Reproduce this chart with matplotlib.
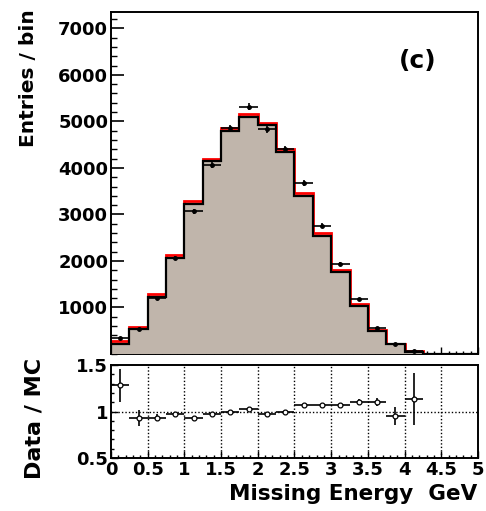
import numpy as np
import matplotlib
matplotlib.use("Agg")
import matplotlib.pyplot as plt
from matplotlib.ticker import MultipleLocator

plt.rcParams['font.family'] = ['DejaVu Sans']
plt.rcParams['font.weight'] = 'bold'

# missing energy histogram, 20 bins of 0.25 GeV
e_lo, e_hi, nbins = 0.0, 5.0, 20
mc_total = [270, 583, 1286, 2125, 3286, 4197, 4856, 5160, 4975, 4400,
            3452, 2591, 1802, 1071, 512, 225, 60, 6, 0, 0]
mc_main = [225, 527, 1228, 2068, 3228, 4140, 4800, 5100, 4918, 4345,
           3400, 2545, 1760, 1040, 490, 205, 50, 4, 0, 0]
data = [346, 542, 1202, 2061, 3072, 4071, 4856, 5315, 4826, 4400,
        3676, 2759, 1928, 1178, 563, 214, 68, 0, 0, 0]
data_err = [19, 23, 35, 45, 55, 64, 70, 73, 69, 66,
            61, 53, 44, 34, 24, 15, 8, 0, 0, 0]
ratio_err = [0.18, 0.09, 0.035, 0.02, 0.02, 0.015, 0.015, 0.015, 0.015, 0.015,
             0.02, 0.02, 0.025, 0.03, 0.045, 0.10, 0.28]

edges = np.linspace(e_lo, e_hi, nbins + 1)
centers = 0.5 * (edges[:-1] + edges[1:])
half = 0.5 * (edges[1] - edges[0])
mc_total = np.array(mc_total, float)
data = np.array(data, float)
nr = len(ratio_err)
ratio = data[:nr] / mc_total[:nr]

fig = plt.figure(figsize=(4.86, 5.11), dpi=100)
ax = fig.add_axes([0.2284, 0.3072, 0.7551, 0.6693])
axr = fig.add_axes([0.2284, 0.1037, 0.7551, 0.1820])

# upper panel
ax.stairs(mc_total, edges, color='red', lw=2.0, zorder=2)
ax.stairs(mc_main, edges, fill=True, color='#c0b5ab', zorder=3)
ax.stairs(mc_main, edges, color='black', lw=1.6, zorder=4)
m = data > 0
ax.errorbar(centers[m], data[m], xerr=half, yerr=np.array(data_err)[m],
            fmt='o', ms=2.5, color='black', lw=1.2, capsize=0, zorder=5)
ax.set_xlim(e_lo, e_hi)
ax.set_ylim(0, 7350)
ax.yaxis.set_minor_locator(MultipleLocator(200))
ax.xaxis.set_major_locator(MultipleLocator(0.5))
ax.xaxis.set_minor_locator(MultipleLocator(0.1))
ax.set_yticks([1000, 2000, 3000, 4000, 5000, 6000, 7000])
ax.tick_params(axis='y', which='major', direction='in', length=9, width=1.2, labelsize=13, pad=2)
ax.tick_params(axis='y', which='minor', direction='in', length=4.5, width=1.0)
ax.tick_params(axis='x', which='major', direction='in', length=5, width=1.0, labelbottom=False)
ax.tick_params(axis='x', which='minor', direction='in', length=2.5, width=1.0)
for s in ax.spines.values():
    s.set_linewidth(1.4)
ax.text(0.837, 0.857, '(c)', transform=ax.transAxes, fontsize=18,
        fontweight='bold', ha='center', va='center')

# ratio panel
axr.errorbar(centers[:nr], ratio, xerr=half, yerr=ratio_err, fmt='o', ms=3.5,
             mfc='white', mec='black', mew=0.9, color='black', lw=1.2, capsize=0, zorder=5)
axr.set_xlim(e_lo, e_hi)
axr.set_ylim(0.5, 1.5)
axr.set_yticks([0.5, 1.0, 1.5])
axr.set_yticklabels(['0.5', '1', '1.5'])
axr.yaxis.set_minor_locator(MultipleLocator(0.1))
axr.set_xticks(np.arange(0, 5.01, 0.5))
axr.set_xticklabels(['0', '0.5', '1', '1.5', '2', '2.5', '3', '3.5', '4', '4.5', '5'])
axr.xaxis.set_minor_locator(MultipleLocator(0.1))
axr.tick_params(axis='both', which='major', direction='in', length=5, width=1.0, labelsize=13, pad=2)
axr.tick_params(axis='both', which='minor', direction='in', length=2.5, width=1.0)
for x in np.arange(0.5, 5.0, 0.5):
    axr.axvline(x, color='black', ls=(0, (1, 1.5)), lw=1.0, zorder=1)
axr.axhline(1.0, color='black', ls=(0, (1, 1.5)), lw=1.0, zorder=1)
for s in axr.spines.values():
    s.set_linewidth(1.4)

fig.text(0.983, 0.034, 'Missing Energy  GeV', ha='right', va='center', fontsize=15.5, fontweight='bold')
fig.text(0.058, 0.982, 'Entries / bin', rotation=90, ha='center', va='top', fontsize=14.5, fontweight='bold')
fig.text(0.070, 0.182, 'Data / MC', rotation=90, ha='center', va='center', fontsize=16, fontweight='bold')

fig.savefig('out.png', dpi=100)
